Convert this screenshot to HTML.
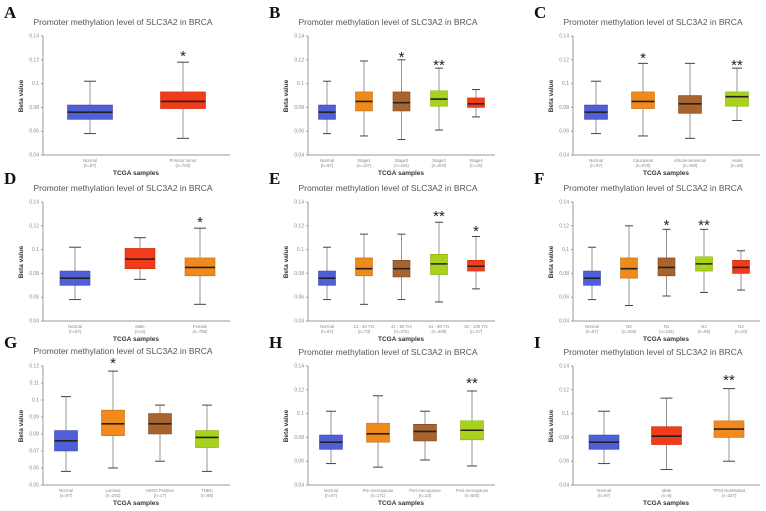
<!DOCTYPE html>
<html><head><meta charset="utf-8"><style>
body{margin:0;background:#fff}
svg{display:block;font-family:"Liberation Sans",sans-serif}
.d line,.d rect{vector-effect:non-scaling-stroke}
.w{stroke:#8a8a8a;stroke-width:0.9}
.c{stroke:#444;stroke-width:1}
.m{stroke:#222;stroke-width:1.6}
.bl{fill:#4f5fd8;stroke:#3c48b0;stroke-width:.6}
.rd{fill:#f03c1a;stroke:#c83010;stroke-width:.6}
.or{fill:#f08a1c;stroke:#c87010;stroke-width:.6}
.br{fill:#a8642e;stroke:#80481e;stroke-width:.6}
.lm{fill:#a8d21c;stroke:#88b010;stroke-width:.6}
.ax{stroke:#999;stroke-width:1;fill:none}
.tk{font-size:5px;fill:#888;text-anchor:end}
.xl{font-size:4.3px;fill:#888;text-anchor:middle}
.tt{font-size:8.5px;fill:#555;text-anchor:middle}
.yl{font-size:6.5px;font-weight:bold;fill:#333;text-anchor:middle}
.ts{font-size:6.5px;font-weight:bold;fill:#333;text-anchor:middle}
.lt{font-family:"Liberation Serif",serif;font-size:17px;font-weight:bold;fill:#111}
.st{font-size:15px;fill:#222;text-anchor:middle}
</style></head><body>
<svg width="766" height="511" viewBox="0 0 766 511">

<!-- A -->
<g transform="translate(0,0)">
<text class="lt" x="4" y="18">A</text>
<text class="tt" x="123" y="25">Promoter methylation level of SLC3A2 in BRCA</text>
<path class="ax" d="M43 36V155H230M41 36h2M41 59.8h2M41 83.6h2M41 107.4h2M41 131.2h2M41 155h2"/>
<text class="tk" x="39" y="37.5">0.14</text><text class="tk" x="39" y="61.3">0.12</text><text class="tk" x="39" y="85.1">0.1</text><text class="tk" x="39" y="108.9">0.08</text><text class="tk" x="39" y="132.7">0.06</text><text class="tk" x="39" y="156.5">0.04</text>
<text class="yl" transform="translate(23,96) rotate(-90)">Beta value</text>
<text class="ts" x="136" y="175">TCGA samples</text>
<text class="xl" x="90" y="162">Normal</text><text class="xl" x="90" y="167">(n=97)</text>
<text class="xl" x="183" y="162">Primary tumor</text><text class="xl" x="183" y="167">(n=793)</text>
<g class="d" transform="translate(0,202.6) scale(1,-1190)">
<line class="w" x1="90" x2="90" y1=".058" y2=".102"/><line class="c" x1="84" x2="96" y1=".058" y2=".058"/><line class="c" x1="84" x2="96" y1=".102" y2=".102"/><rect class="bl" x="67.5" y=".070" width="45" height=".012"/><line class="m" x1="67.5" x2="112.5" y1=".076" y2=".076"/>
<line class="w" x1="183" x2="183" y1=".054" y2=".118"/><line class="c" x1="177" x2="189" y1=".054" y2=".054"/><line class="c" x1="177" x2="189" y1=".118" y2=".118"/><rect class="rd" x="160.5" y=".079" width="45" height=".014"/><line class="m" x1="160.5" x2="205.5" y1=".085" y2=".085"/>
</g>
<text class="st" x="183" y="61">*</text>
</g>

<!-- B -->
<g transform="translate(265,0)">
<text class="lt" x="4" y="18">B</text>
<text class="tt" x="123" y="25">Promoter methylation level of SLC3A2 in BRCA</text>
<path class="ax" d="M43 36V155H230M41 36h2M41 59.8h2M41 83.6h2M41 107.4h2M41 131.2h2M41 155h2"/>
<text class="tk" x="39" y="37.5">0.14</text><text class="tk" x="39" y="61.3">0.12</text><text class="tk" x="39" y="85.1">0.1</text><text class="tk" x="39" y="108.9">0.08</text><text class="tk" x="39" y="132.7">0.06</text><text class="tk" x="39" y="156.5">0.04</text>
<text class="yl" transform="translate(23,96) rotate(-90)">Beta value</text>
<text class="ts" x="136" y="175">TCGA samples</text>
<text class="xl" x="62" y="162">Normal</text><text class="xl" x="62" y="167">(n=97)</text>
<text class="xl" x="99" y="162">Stage1</text><text class="xl" x="99" y="167">(n=127)</text>
<text class="xl" x="136.5" y="162">Stage2</text><text class="xl" x="136.5" y="167">(n=443)</text>
<text class="xl" x="174" y="162">Stage3</text><text class="xl" x="174" y="167">(n=200)</text>
<text class="xl" x="211" y="162">Stage4</text><text class="xl" x="211" y="167">(n=15)</text>
<g class="d" transform="translate(0,202.6) scale(1,-1190)">
<line class="w" x1="62" x2="62" y1=".058" y2=".102"/><line class="c" x1="58" x2="66" y1=".058" y2=".058"/><line class="c" x1="58" x2="66" y1=".102" y2=".102"/><rect class="bl" x="53.5" y=".070" width="17" height=".012"/><line class="m" x1="53.5" x2="70.5" y1=".076" y2=".076"/>
<line class="w" x1="99" x2="99" y1=".056" y2=".119"/><line class="c" x1="95" x2="103" y1=".056" y2=".056"/><line class="c" x1="95" x2="103" y1=".119" y2=".119"/><rect class="or" x="90.5" y=".077" width="17" height=".016"/><line class="m" x1="90.5" x2="107.5" y1=".085" y2=".085"/>
<line class="w" x1="136.5" x2="136.5" y1=".053" y2=".120"/><line class="c" x1="132.5" x2="140.5" y1=".053" y2=".053"/><line class="c" x1="132.5" x2="140.5" y1=".120" y2=".120"/><rect class="br" x="128" y=".077" width="17" height=".016"/><line class="m" x1="128" x2="145" y1=".084" y2=".084"/>
<line class="w" x1="174" x2="174" y1=".061" y2=".113"/><line class="c" x1="170" x2="178" y1=".061" y2=".061"/><line class="c" x1="170" x2="178" y1=".113" y2=".113"/><rect class="lm" x="165.5" y=".081" width="17" height=".013"/><line class="m" x1="165.5" x2="182.5" y1=".087" y2=".087"/>
<line class="w" x1="211" x2="211" y1=".072" y2=".095"/><line class="c" x1="207" x2="215" y1=".072" y2=".072"/><line class="c" x1="207" x2="215" y1=".095" y2=".095"/><rect class="rd" x="202.5" y=".080" width="17" height=".008"/><line class="m" x1="202.5" x2="219.5" y1=".083" y2=".083"/>
</g>
<text class="st" x="136.5" y="62">*</text><text class="st" x="174" y="70">**</text>
</g>

<!-- C -->
<g transform="translate(530,0)">
<text class="lt" x="4" y="18">C</text>
<text class="tt" x="123" y="25">Promoter methylation level of SLC3A2 in BRCA</text>
<path class="ax" d="M43 36V155H230M41 36h2M41 59.8h2M41 83.6h2M41 107.4h2M41 131.2h2M41 155h2"/>
<text class="tk" x="39" y="37.5">0.14</text><text class="tk" x="39" y="61.3">0.12</text><text class="tk" x="39" y="85.1">0.1</text><text class="tk" x="39" y="108.9">0.08</text><text class="tk" x="39" y="132.7">0.06</text><text class="tk" x="39" y="156.5">0.04</text>
<text class="yl" transform="translate(23,96) rotate(-90)">Beta value</text>
<text class="ts" x="136" y="175">TCGA samples</text>
<text class="xl" x="66" y="162">Normal</text><text class="xl" x="66" y="167">(n=97)</text>
<text class="xl" x="113" y="162">Caucasian</text><text class="xl" x="113" y="167">(n=578)</text>
<text class="xl" x="160" y="162">African-american</text><text class="xl" x="160" y="167">(n=160)</text>
<text class="xl" x="207" y="162">Asian</text><text class="xl" x="207" y="167">(n=38)</text>
<g class="d" transform="translate(0,202.6) scale(1,-1190)">
<line class="w" x1="66" x2="66" y1=".058" y2=".102"/><line class="c" x1="61" x2="71" y1=".058" y2=".058"/><line class="c" x1="61" x2="71" y1=".102" y2=".102"/><rect class="bl" x="54.5" y=".070" width="23" height=".012"/><line class="m" x1="54.5" x2="77.5" y1=".076" y2=".076"/>
<line class="w" x1="113" x2="113" y1=".056" y2=".117"/><line class="c" x1="108" x2="118" y1=".056" y2=".056"/><line class="c" x1="108" x2="118" y1=".117" y2=".117"/><rect class="or" x="101.5" y=".079" width="23" height=".014"/><line class="m" x1="101.5" x2="124.5" y1=".085" y2=".085"/>
<line class="w" x1="160" x2="160" y1=".054" y2=".117"/><line class="c" x1="155" x2="165" y1=".054" y2=".054"/><line class="c" x1="155" x2="165" y1=".117" y2=".117"/><rect class="br" x="148.5" y=".075" width="23" height=".015"/><line class="m" x1="148.5" x2="171.5" y1=".083" y2=".083"/>
<line class="w" x1="207" x2="207" y1=".069" y2=".113"/><line class="c" x1="202" x2="212" y1=".069" y2=".069"/><line class="c" x1="202" x2="212" y1=".113" y2=".113"/><rect class="lm" x="195.5" y=".081" width="23" height=".012"/><line class="m" x1="195.5" x2="218.5" y1=".089" y2=".089"/>
</g>
<text class="st" x="113" y="63">*</text><text class="st" x="207" y="70">**</text>
</g>

<!-- D -->
<g transform="translate(0,166)">
<text class="lt" x="4" y="18">D</text>
<text class="tt" x="123" y="25">Promoter methylation level of SLC3A2 in BRCA</text>
<path class="ax" d="M43 36V155H230M41 36h2M41 59.8h2M41 83.6h2M41 107.4h2M41 131.2h2M41 155h2"/>
<text class="tk" x="39" y="37.5">0.14</text><text class="tk" x="39" y="61.3">0.12</text><text class="tk" x="39" y="85.1">0.1</text><text class="tk" x="39" y="108.9">0.08</text><text class="tk" x="39" y="132.7">0.06</text><text class="tk" x="39" y="156.5">0.04</text>
<text class="yl" transform="translate(23,96) rotate(-90)">Beta value</text>
<text class="ts" x="136" y="175">TCGA samples</text>
<text class="xl" x="75" y="162">Normal</text><text class="xl" x="75" y="167">(n=97)</text>
<text class="xl" x="140" y="162">Male</text><text class="xl" x="140" y="167">(n=8)</text>
<text class="xl" x="200" y="162">Female</text><text class="xl" x="200" y="167">(n=785)</text>
<g class="d" transform="translate(0,202.6) scale(1,-1190)">
<line class="w" x1="75" x2="75" y1=".058" y2=".102"/><line class="c" x1="69" x2="81" y1=".058" y2=".058"/><line class="c" x1="69" x2="81" y1=".102" y2=".102"/><rect class="bl" x="60" y=".070" width="30" height=".012"/><line class="m" x1="60" x2="90" y1=".076" y2=".076"/>
<line class="w" x1="140" x2="140" y1=".075" y2=".110"/><line class="c" x1="134" x2="146" y1=".075" y2=".075"/><line class="c" x1="134" x2="146" y1=".110" y2=".110"/><rect class="rd" x="125" y=".084" width="30" height=".017"/><line class="m" x1="125" x2="155" y1=".092" y2=".092"/>
<line class="w" x1="200" x2="200" y1=".054" y2=".118"/><line class="c" x1="194" x2="206" y1=".054" y2=".054"/><line class="c" x1="194" x2="206" y1=".118" y2=".118"/><rect class="or" x="185" y=".078" width="30" height=".015"/><line class="m" x1="185" x2="215" y1=".085" y2=".085"/>
</g>
<text class="st" x="200" y="61">*</text>
</g>

<!-- E -->
<g transform="translate(265,166)">
<text class="lt" x="4" y="18">E</text>
<text class="tt" x="123" y="25">Promoter methylation level of SLC3A2 in BRCA</text>
<path class="ax" d="M43 36V155H230M41 36h2M41 59.8h2M41 83.6h2M41 107.4h2M41 131.2h2M41 155h2"/>
<text class="tk" x="39" y="37.5">0.14</text><text class="tk" x="39" y="61.3">0.12</text><text class="tk" x="39" y="85.1">0.1</text><text class="tk" x="39" y="108.9">0.08</text><text class="tk" x="39" y="132.7">0.06</text><text class="tk" x="39" y="156.5">0.04</text>
<text class="yl" transform="translate(23,96) rotate(-90)">Beta value</text>
<text class="ts" x="136" y="175">TCGA samples</text>
<text class="xl" x="62" y="162">Normal</text><text class="xl" x="62" y="167">(n=97)</text>
<text class="xl" x="99" y="162">21 - 40 Yrs</text><text class="xl" x="99" y="167">(n=73)</text>
<text class="xl" x="136.5" y="162">41 - 60 Yrs</text><text class="xl" x="136.5" y="167">(n=376)</text>
<text class="xl" x="174" y="162">61 - 80 Yrs</text><text class="xl" x="174" y="167">(n=308)</text>
<text class="xl" x="211" y="162">81 - 100 Yrs</text><text class="xl" x="211" y="167">(n=37)</text>
<g class="d" transform="translate(0,202.6) scale(1,-1190)">
<line class="w" x1="62" x2="62" y1=".058" y2=".102"/><line class="c" x1="58" x2="66" y1=".058" y2=".058"/><line class="c" x1="58" x2="66" y1=".102" y2=".102"/><rect class="bl" x="53.5" y=".070" width="17" height=".012"/><line class="m" x1="53.5" x2="70.5" y1=".076" y2=".076"/>
<line class="w" x1="99" x2="99" y1=".054" y2=".113"/><line class="c" x1="95" x2="103" y1=".054" y2=".054"/><line class="c" x1="95" x2="103" y1=".113" y2=".113"/><rect class="or" x="90.5" y=".078" width="17" height=".015"/><line class="m" x1="90.5" x2="107.5" y1=".084" y2=".084"/>
<line class="w" x1="136.5" x2="136.5" y1=".058" y2=".113"/><line class="c" x1="132.5" x2="140.5" y1=".058" y2=".058"/><line class="c" x1="132.5" x2="140.5" y1=".113" y2=".113"/><rect class="br" x="128" y=".077" width="17" height=".014"/><line class="m" x1="128" x2="145" y1=".084" y2=".084"/>
<line class="w" x1="174" x2="174" y1=".056" y2=".123"/><line class="c" x1="170" x2="178" y1=".056" y2=".056"/><line class="c" x1="170" x2="178" y1=".123" y2=".123"/><rect class="lm" x="165.5" y=".079" width="17" height=".017"/><line class="m" x1="165.5" x2="182.5" y1=".088" y2=".088"/>
<line class="w" x1="211" x2="211" y1=".067" y2=".111"/><line class="c" x1="207" x2="215" y1=".067" y2=".067"/><line class="c" x1="207" x2="215" y1=".111" y2=".111"/><rect class="rd" x="202.5" y=".082" width="17" height=".009"/><line class="m" x1="202.5" x2="219.5" y1=".086" y2=".086"/>
</g>
<text class="st" x="174" y="55">**</text><text class="st" x="211" y="70">*</text>
</g>

<!-- F -->
<g transform="translate(530,166)">
<text class="lt" x="4" y="18">F</text>
<text class="tt" x="123" y="25">Promoter methylation level of SLC3A2 in BRCA</text>
<path class="ax" d="M43 36V155H230M41 36h2M41 59.8h2M41 83.6h2M41 107.4h2M41 131.2h2M41 155h2"/>
<text class="tk" x="39" y="37.5">0.14</text><text class="tk" x="39" y="61.3">0.12</text><text class="tk" x="39" y="85.1">0.1</text><text class="tk" x="39" y="108.9">0.08</text><text class="tk" x="39" y="132.7">0.06</text><text class="tk" x="39" y="156.5">0.04</text>
<text class="yl" transform="translate(23,96) rotate(-90)">Beta value</text>
<text class="ts" x="136" y="175">TCGA samples</text>
<text class="xl" x="62" y="162">Normal</text><text class="xl" x="62" y="167">(n=97)</text>
<text class="xl" x="99" y="162">N0</text><text class="xl" x="99" y="167">(n=330)</text>
<text class="xl" x="136.5" y="162">N1</text><text class="xl" x="136.5" y="167">(n=242)</text>
<text class="xl" x="174" y="162">N2</text><text class="xl" x="174" y="167">(n=95)</text>
<text class="xl" x="211" y="162">N3</text><text class="xl" x="211" y="167">(n=20)</text>
<g class="d" transform="translate(0,202.6) scale(1,-1190)">
<line class="w" x1="62" x2="62" y1=".058" y2=".102"/><line class="c" x1="58" x2="66" y1=".058" y2=".058"/><line class="c" x1="58" x2="66" y1=".102" y2=".102"/><rect class="bl" x="53.5" y=".070" width="17" height=".012"/><line class="m" x1="53.5" x2="70.5" y1=".076" y2=".076"/>
<line class="w" x1="99" x2="99" y1=".053" y2=".120"/><line class="c" x1="95" x2="103" y1=".053" y2=".053"/><line class="c" x1="95" x2="103" y1=".120" y2=".120"/><rect class="or" x="90.5" y=".076" width="17" height=".017"/><line class="m" x1="90.5" x2="107.5" y1=".084" y2=".084"/>
<line class="w" x1="136.5" x2="136.5" y1=".061" y2=".117"/><line class="c" x1="132.5" x2="140.5" y1=".061" y2=".061"/><line class="c" x1="132.5" x2="140.5" y1=".117" y2=".117"/><rect class="br" x="128" y=".078" width="17" height=".015"/><line class="m" x1="128" x2="145" y1=".085" y2=".085"/>
<line class="w" x1="174" x2="174" y1=".064" y2=".117"/><line class="c" x1="170" x2="178" y1=".064" y2=".064"/><line class="c" x1="170" x2="178" y1=".117" y2=".117"/><rect class="lm" x="165.5" y=".082" width="17" height=".012"/><line class="m" x1="165.5" x2="182.5" y1=".088" y2=".088"/>
<line class="w" x1="211" x2="211" y1=".066" y2=".099"/><line class="c" x1="207" x2="215" y1=".066" y2=".066"/><line class="c" x1="207" x2="215" y1=".099" y2=".099"/><rect class="rd" x="202.5" y=".080" width="17" height=".011"/><line class="m" x1="202.5" x2="219.5" y1=".085" y2=".085"/>
</g>
<text class="st" x="136.5" y="64">*</text><text class="st" x="174" y="64">**</text>
</g>

<!-- G -->
<g transform="translate(0,330)">
<text class="lt" x="4" y="18">G</text>
<text class="tt" x="123" y="24">Promoter methylation level of SLC3A2 in BRCA</text>
<path class="ax" d="M43 36V155H230M41 36h2M41 53h2M41 70h2M41 87h2M41 104h2M41 121h2M41 138h2M41 155h2"/>
<text class="tk" x="39" y="37.5">0.12</text><text class="tk" x="39" y="54.5">0.11</text><text class="tk" x="39" y="71.5">0.1</text><text class="tk" x="39" y="88.5">0.09</text><text class="tk" x="39" y="105.5">0.08</text><text class="tk" x="39" y="122.5">0.07</text><text class="tk" x="39" y="139.5">0.06</text><text class="tk" x="39" y="156.5">0.05</text>
<text class="yl" transform="translate(23,96) rotate(-90)">Beta value</text>
<text class="ts" x="136" y="175">TCGA samples</text>
<text class="xl" x="66" y="162">Normal</text><text class="xl" x="66" y="167">(n=97)</text>
<text class="xl" x="113" y="162">Luminal</text><text class="xl" x="113" y="167">(n=293)</text>
<text class="xl" x="160" y="162">HER2 Positive</text><text class="xl" x="160" y="167">(n=17)</text>
<text class="xl" x="207" y="162">TNBC</text><text class="xl" x="207" y="167">(n=86)</text>
<g class="d" transform="translate(0,240) scale(1,-1700)">
<line class="w" x1="66" x2="66" y1=".058" y2=".102"/><line class="c" x1="61" x2="71" y1=".058" y2=".058"/><line class="c" x1="61" x2="71" y1=".102" y2=".102"/><rect class="bl" x="54.5" y=".070" width="23" height=".012"/><line class="m" x1="54.5" x2="77.5" y1=".076" y2=".076"/>
<line class="w" x1="113" x2="113" y1=".060" y2=".117"/><line class="c" x1="108" x2="118" y1=".060" y2=".060"/><line class="c" x1="108" x2="118" y1=".117" y2=".117"/><rect class="or" x="101.5" y=".079" width="23" height=".015"/><line class="m" x1="101.5" x2="124.5" y1=".086" y2=".086"/>
<line class="w" x1="160" x2="160" y1=".064" y2=".097"/><line class="c" x1="155" x2="165" y1=".064" y2=".064"/><line class="c" x1="155" x2="165" y1=".097" y2=".097"/><rect class="br" x="148.5" y=".080" width="23" height=".012"/><line class="m" x1="148.5" x2="171.5" y1=".086" y2=".086"/>
<line class="w" x1="207" x2="207" y1=".058" y2=".097"/><line class="c" x1="202" x2="212" y1=".058" y2=".058"/><line class="c" x1="202" x2="212" y1=".097" y2=".097"/><rect class="lm" x="195.5" y=".072" width="23" height=".010"/><line class="m" x1="195.5" x2="218.5" y1=".078" y2=".078"/>
</g>
<text class="st" x="113" y="38">*</text>
</g>

<!-- H -->
<g transform="translate(265,330)">
<text class="lt" x="4" y="18">H</text>
<text class="tt" x="123" y="25">Promoter methylation level of SLC3A2 in BRCA</text>
<path class="ax" d="M43 36V155H230M41 36h2M41 59.8h2M41 83.6h2M41 107.4h2M41 131.2h2M41 155h2"/>
<text class="tk" x="39" y="37.5">0.14</text><text class="tk" x="39" y="61.3">0.12</text><text class="tk" x="39" y="85.1">0.1</text><text class="tk" x="39" y="108.9">0.08</text><text class="tk" x="39" y="132.7">0.06</text><text class="tk" x="39" y="156.5">0.04</text>
<text class="yl" transform="translate(23,96) rotate(-90)">Beta value</text>
<text class="ts" x="136" y="175">TCGA samples</text>
<text class="xl" x="66" y="162">Normal</text><text class="xl" x="66" y="167">(n=97)</text>
<text class="xl" x="113" y="162">Pre-menopause</text><text class="xl" x="113" y="167">(n=171)</text>
<text class="xl" x="160" y="162">Peri-menopause</text><text class="xl" x="160" y="167">(n=23)</text>
<text class="xl" x="207" y="162">Post-menopause</text><text class="xl" x="207" y="167">(n=500)</text>
<g class="d" transform="translate(0,202.6) scale(1,-1190)">
<line class="w" x1="66" x2="66" y1=".058" y2=".102"/><line class="c" x1="61" x2="71" y1=".058" y2=".058"/><line class="c" x1="61" x2="71" y1=".102" y2=".102"/><rect class="bl" x="54.5" y=".070" width="23" height=".012"/><line class="m" x1="54.5" x2="77.5" y1=".076" y2=".076"/>
<line class="w" x1="113" x2="113" y1=".055" y2=".115"/><line class="c" x1="108" x2="118" y1=".055" y2=".055"/><line class="c" x1="108" x2="118" y1=".115" y2=".115"/><rect class="or" x="101.5" y=".076" width="23" height=".016"/><line class="m" x1="101.5" x2="124.5" y1=".083" y2=".083"/>
<line class="w" x1="160" x2="160" y1=".061" y2=".102"/><line class="c" x1="155" x2="165" y1=".061" y2=".061"/><line class="c" x1="155" x2="165" y1=".102" y2=".102"/><rect class="br" x="148.5" y=".077" width="23" height=".014"/><line class="m" x1="148.5" x2="171.5" y1=".085" y2=".085"/>
<line class="w" x1="207" x2="207" y1=".056" y2=".119"/><line class="c" x1="202" x2="212" y1=".056" y2=".056"/><line class="c" x1="202" x2="212" y1=".119" y2=".119"/><rect class="lm" x="195.5" y=".078" width="23" height=".016"/><line class="m" x1="195.5" x2="218.5" y1=".086" y2=".086"/>
</g>
<text class="st" x="207" y="58">**</text>
</g>

<!-- I -->
<g transform="translate(530,330)">
<text class="lt" x="4" y="18">I</text>
<text class="tt" x="123" y="25">Promoter methylation level of SLC3A2 in BRCA</text>
<path class="ax" d="M43 36V155H230M41 36h2M41 59.8h2M41 83.6h2M41 107.4h2M41 131.2h2M41 155h2"/>
<text class="tk" x="39" y="37.5">0.14</text><text class="tk" x="39" y="61.3">0.12</text><text class="tk" x="39" y="85.1">0.1</text><text class="tk" x="39" y="108.9">0.08</text><text class="tk" x="39" y="132.7">0.06</text><text class="tk" x="39" y="156.5">0.04</text>
<text class="yl" transform="translate(23,96) rotate(-90)">Beta value</text>
<text class="ts" x="136" y="175">TCGA samples</text>
<text class="xl" x="74" y="162">Normal</text><text class="xl" x="74" y="167">(n=97)</text>
<text class="xl" x="136.5" y="162">Male</text><text class="xl" x="136.5" y="167">(n=8)</text>
<text class="xl" x="199" y="162">TP53 NonMutant</text><text class="xl" x="199" y="167">(n=327)</text>
<g class="d" transform="translate(0,202.6) scale(1,-1190)">
<line class="w" x1="74" x2="74" y1=".058" y2=".102"/><line class="c" x1="68" x2="80" y1=".058" y2=".058"/><line class="c" x1="68" x2="80" y1=".102" y2=".102"/><rect class="bl" x="59" y=".070" width="30" height=".012"/><line class="m" x1="59" x2="89" y1=".076" y2=".076"/>
<line class="w" x1="136.5" x2="136.5" y1=".053" y2=".113"/><line class="c" x1="130.5" x2="142.5" y1=".053" y2=".053"/><line class="c" x1="130.5" x2="142.5" y1=".113" y2=".113"/><rect class="rd" x="121.5" y=".074" width="30" height=".015"/><line class="m" x1="121.5" x2="151.5" y1=".081" y2=".081"/>
<line class="w" x1="199" x2="199" y1=".060" y2=".121"/><line class="c" x1="193" x2="205" y1=".060" y2=".060"/><line class="c" x1="193" x2="205" y1=".121" y2=".121"/><rect class="or" x="184" y=".080" width="30" height=".014"/><line class="m" x1="184" x2="214" y1=".087" y2=".087"/>
</g>
<text class="st" x="199" y="55">**</text>
</g>

</svg>
</body></html>
